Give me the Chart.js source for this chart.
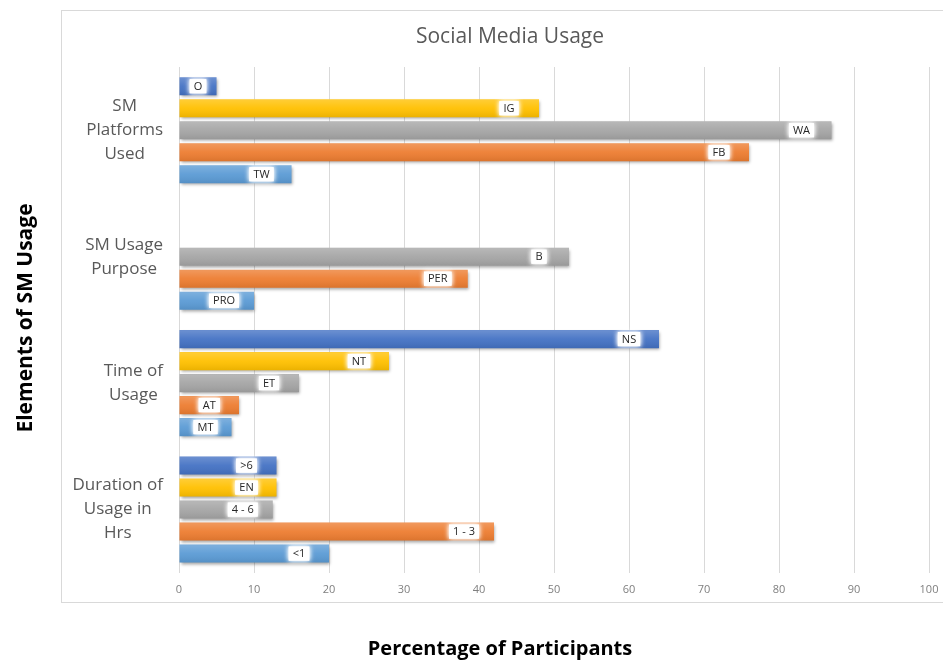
<!DOCTYPE html>
<html>
<head>
<meta charset="utf-8">
<title>Social Media Usage</title>
<script src="https://cdn.jsdelivr.net/npm/chart.js@4.4.1/dist/chart.umd.min.js"></script>
<style>
  html, body { margin: 0; padding: 0; background: #fff; }
</style>
</head>
<body>
<canvas id="sm-usage-chart" width="943" height="661"></canvas>
<script>
// data

const chartTitle = 'Social Media Usage';
const xTitle = 'Percentage of Participants';
const yTitle = 'Elements of SM Usage';

// categories top to bottom, one entry per line of the label
const categories = [
    ['SM', 'Platforms', 'Used'],
    ['SM Usage', 'Purpose'],
    ['Time of', 'Usage'],
    ['Duration of', 'Usage in', 'Hrs']
];

const xTickValues = [0, 10, 20, 30, 40, 50, 60, 70, 80, 90, 100];

// series, drawn top to bottom inside each category
const darkBlueValues  = [5, null, 64, 13];
const darkBlueLabels  = ['O', '', 'NS', '>6'];
const yellowValues    = [48, null, 28, 13];
const yellowLabels    = ['IG', '', 'NT', 'EN'];
const grayValues      = [87, 52, 16, 12.5];
const grayLabels      = ['WA', 'B', 'ET', '4 - 6'];
const orangeValues    = [76, 38.5, 8, 42];
const orangeLabels    = ['FB', 'PER', 'AT', '1 - 3'];
const lightBlueValues = [15, 10, 7, 20];
const lightBlueLabels = ['TW', 'PRO', 'MT', '<1'];

const FONT = '"Open Sans", "DejaVu Sans", sans-serif';

// box, shading, bar labels and the hand placed titles
const decor = {
    id: 'decor',
    beforeDraw(chart) {
        const c = chart.ctx;
        c.save();
        c.strokeStyle = '#d9d9d9';
        c.lineWidth = 1;
        c.strokeRect(61.5, 10.5, 900, 592);
        c.restore();
    },
    beforeDatasetsDraw(chart) {
        const c = chart.ctx;
        c.save();
        c.shadowColor = 'rgba(0,0,0,0.35)';
        c.shadowBlur = 3;
        c.shadowOffsetX = 1;
        c.shadowOffsetY = 2;
    },
    afterDatasetsDraw(chart) {
        const c = chart.ctx;
        c.restore();

        // soft highlight / darker bottom like the office gradient fill
        chart.data.datasets.forEach((ds, i) => {
            chart.getDatasetMeta(i).data.forEach((el, j) => {
                if (ds.data[j] == null) return;
                const p = el.getProps(['x', 'y', 'base', 'height'], true);
                const top = p.y - p.height / 2;
                const g = c.createLinearGradient(0, top, 0, top + p.height);
                g.addColorStop(0, 'rgba(255,255,255,0.22)');
                g.addColorStop(0.5, 'rgba(255,255,255,0.05)');
                g.addColorStop(1, 'rgba(0,0,0,0.08)');
                c.fillStyle = g;
                c.fillRect(p.base, top, p.x - p.base, p.height);
            });
        });

        // bar labels in white glowing boxes near the bar end
        c.save();
        c.font = '11px ' + FONT;
        c.textAlign = 'center';
        c.textBaseline = 'middle';
        chart.data.datasets.forEach((ds, i) => {
            chart.getDatasetMeta(i).data.forEach((el, j) => {
                const txt = ds.barLabels[j];
                if (!txt || ds.data[j] == null) return;
                const p = el.getProps(['x', 'y', 'base'], true);
                const cx = Math.max(p.x - 30, (p.base + p.x) / 2);
                const w = c.measureText(txt).width + 8;
                c.save();
                c.fillStyle = '#ffffff';
                c.shadowColor = 'rgba(255,255,255,1)';
                c.shadowBlur = 5;
                c.fillRect(cx - w / 2, p.y - 7, w, 14);
                c.fillRect(cx - w / 2, p.y - 7, w, 14);
                c.restore();
                c.fillStyle = '#262626';
                c.fillText(txt, cx, p.y + 0.5);
            });
        });
        c.restore();
    },
    afterDraw(chart) {
        const c = chart.ctx;
        const yScale = chart.scales.y;
        c.save();
        c.textBaseline = 'middle';
        c.textAlign = 'center';

        c.fillStyle = '#595959';
        c.font = '21px ' + FONT;
        c.fillText(chartTitle, 510, 37);

        // category labels: lines centred in a block that ends near the axis
        c.font = '17px ' + FONT;
        categories.forEach((lines, j) => {
            const cy = yScale.getPixelForValue(j);
            const widest = Math.max(...lines.map(l => c.measureText(l).width));
            const cx = 163 - widest / 2;
            lines.forEach((l, k) => {
                c.fillText(l, cx, cy + (k - (lines.length - 1) / 2) * 24);
            });
        });

        c.fillStyle = '#000000';
        c.font = 'bold 20px ' + FONT;
        c.fillText(xTitle, 500, 649);
        c.font = 'bold 21px ' + FONT;
        c.translate(26, 318);
        c.rotate(-Math.PI / 2);
        c.fillText(yTitle, 0, 0);
        c.restore();
    }
};

const ctxUsage = document.getElementById('sm-usage-chart').getContext('2d');
const usageChart = new Chart(ctxUsage, {
    type: 'bar',
    data: {
        labels: categories.map(l => l.join(' ')),
        datasets: [
            { data: darkBlueValues, barLabels: darkBlueLabels, backgroundColor: '#4472c4' },
            { data: yellowValues, barLabels: yellowLabels, backgroundColor: '#ffc000' },
            { data: grayValues, barLabels: grayLabels, backgroundColor: '#a5a5a5' },
            { data: orangeValues, barLabels: orangeLabels, backgroundColor: '#ed7d31' },
            { data: lightBlueValues, barLabels: lightBlueLabels, backgroundColor: '#5b9bd5' }
        ]
    },
    options: {
        indexAxis: 'y',
        responsive: false,
        animation: false,
        devicePixelRatio: 1,
        categoryPercentage: 0.87,
        barPercentage: 0.82,
        layout: {
            padding: { left: 179, right: 14, top: 67, bottom: 63 }
        },
        plugins: {
            legend: { display: false },
            tooltip: { enabled: false }
        },
        scales: {
            x: {
                min: xTickValues[0],
                max: xTickValues[xTickValues.length - 1],
                afterBuildTicks: s => { s.ticks = xTickValues.map(v => ({ value: v })); },
                grid: { color: '#d9d9d9', drawTicks: true, tickLength: 8, tickColor: 'rgba(0,0,0,0)' },
                border: { display: false },
                ticks: {
                    padding: 2,
                    color: '#7f7f7f',
                    font: { family: FONT, size: 11 }
                }
            },
            y: {
                grid: { display: false, drawTicks: false },
                border: { display: true, color: '#d9d9d9' },
                ticks: { display: false }
            }
        }
    },
    plugins: [decor]
});
</script>
</body>
</html>
